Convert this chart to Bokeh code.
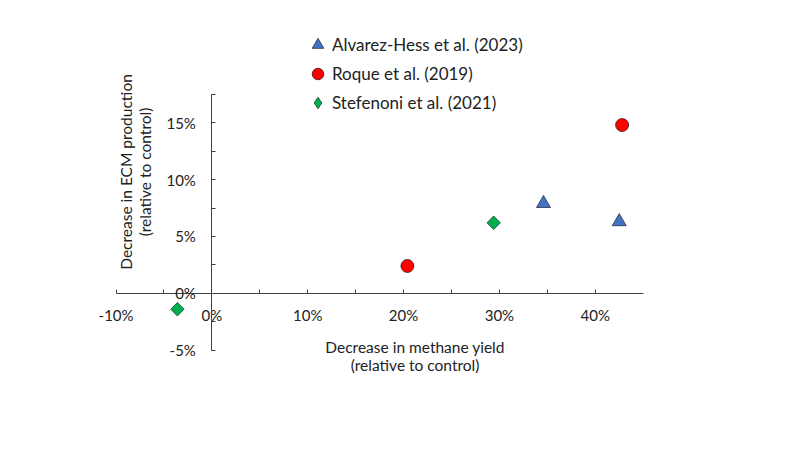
import math
from bokeh.plotting import figure
from bokeh.models import (Range1d, FixedTicker, PrintfTickFormatter, Legend, LegendItem,
                          Label)
from bokeh.embed import file_html
from bokeh.resources import INLINE

# ---- data (percent) ----
series_names = ["Alvarez-Hess et al. (2023)", "Roque et al. (2019)", "Stefenoni et al. (2021)"]
alvarez_x = [34.6, 42.5]
alvarez_y = [7.9, 6.3]
roque_x = [20.4, 42.8]
roque_y = [2.4, 14.8]
stefenoni_x = [29.4, -3.6]
stefenoni_y = [6.2, -1.4]

x_axis_bounds = (-10, 45)
y_axis_bounds = (-5, 17.5)
x_major_ticks = [-10, 0, 10, 20, 30, 40]
x_minor_ticks = [-5, 5, 15, 25, 35]
y_major_ticks = [-5, 0, 5, 10, 15]
y_minor_ticks = [-2.5, 2.5, 7.5, 12.5, 17.5]

x_title = ["Decrease in methane yield", "(relative to control)"]
y_title = ["Decrease in ECM production", "(relative to control)"]

FONT = "Lato"
TXT = "#222222"
AX = "#404040"

# ---- layout: frame covers most of canvas, axes drawn crossing at the origin ----
W, H = 784, 434
BL, BB = 60, 50           # left / bottom borders
X0_PX, PX_PER_X = 211.4, 9.584   # pixel of x=0, pixels per 1 %
Y0_PX, PX_PER_Y = 292.8, 11.37   # pixel of y=0 (from top), pixels per 1 %
x_start = (BL - X0_PX) / PX_PER_X
x_end = (W - X0_PX) / PX_PER_X
y_end = Y0_PX / PX_PER_Y
y_start = (Y0_PX - (H - BB)) / PX_PER_Y

p = figure(width=W, height=H, output_backend="svg", toolbar_location=None,
           x_range=Range1d(x_start, x_end), y_range=Range1d(y_start, y_end),
           min_border_left=BL, min_border_right=0, min_border_top=0, min_border_bottom=BB)
p.outline_line_color = None
p.xgrid.grid_line_color = None
p.ygrid.grid_line_color = None
p.background_fill_color = "white"
p.border_fill_color = "white"

for ax in (p.xaxis[0], p.yaxis[0]):
    ax.fixed_location = 0
    ax.axis_line_color = AX
    ax.axis_line_width = 1
    ax.major_tick_line_color = AX
    ax.minor_tick_line_color = AX
    ax.major_tick_out = 0
    ax.minor_tick_out = 0
    ax.major_tick_in = 4
    ax.minor_tick_in = 4
    ax.major_label_text_font = FONT
    ax.major_label_text_font_size = "15px"
    ax.major_label_text_color = TXT
    ax.formatter = PrintfTickFormatter(format="%d%%")

p.xaxis[0].bounds = x_axis_bounds
p.yaxis[0].bounds = y_axis_bounds
p.xaxis[0].ticker = FixedTicker(ticks=x_major_ticks, minor_ticks=x_minor_ticks)
p.yaxis[0].ticker = FixedTicker(ticks=y_major_ticks, minor_ticks=y_minor_ticks)
p.xaxis[0].major_label_standoff = 13
p.yaxis[0].major_label_standoff = 16

r1 = p.scatter(alvarez_x, alvarez_y, marker="triangle", size=14, fill_color="#4472C4",
               line_color="#1f2a3a", line_width=0.75)
r2 = p.scatter(roque_x, roque_y, marker="circle", size=13, fill_color="#FF0000",
               line_color="#3a1010", line_width=0.75)
# diamond-shaped key for the legend (legend keys are drawn without rotation);
# it sits underneath the rotated-square markers drawn next
r3_key = p.scatter(stefenoni_x, stefenoni_y, marker="diamond", size=12, fill_color="#00B050",
                   line_color="#103a20", line_width=0.75)
r3 = p.scatter(stefenoni_x, stefenoni_y, marker="square", angle=math.pi / 4, size=9.5,
               fill_color="#00B050", line_color="#103a20", line_width=0.75)

legend = Legend(items=[LegendItem(label=series_names[0], renderers=[r1]),
                       LegendItem(label=series_names[1], renderers=[r2]),
                       LegendItem(label=series_names[2], renderers=[r3_key])],
                location=(243, 267), orientation="vertical",
                border_line_color=None, background_fill_alpha=0,
                padding=0, margin=0, spacing=0,
                glyph_width=29, glyph_height=29, label_height=29, label_standoff=-3,
                label_text_font=FONT, label_text_font_size="17px", label_text_color=TXT)
p.add_layout(legend, "center")

# axis titles
for txt, yy in zip(x_title, [-4.72, -6.31]):
    p.add_layout(Label(x=21.2, y=yy, text=txt, text_align="center", text_baseline="middle",
                       text_font=FONT, text_font_size="15.5px", text_color=TXT))
for txt, xx in zip(y_title, [-9.0, -6.93]):
    p.add_layout(Label(x=xx, y=10.67, text=txt, angle=math.pi / 2, text_align="center",
                       text_baseline="middle", text_font=FONT, text_font_size="15.5px",
                       text_color=TXT))

open("out.html", "w").write(file_html(p, INLINE))
